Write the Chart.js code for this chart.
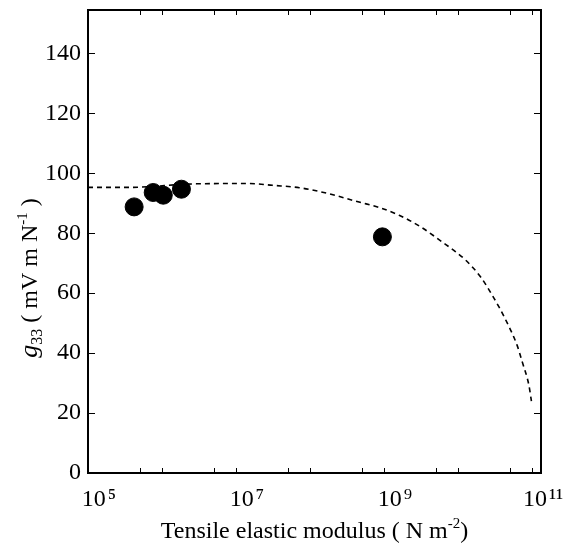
<!DOCTYPE html>
<html><head><meta charset="utf-8">
<script src="https://cdn.jsdelivr.net/npm/chart.js@4/dist/chart.umd.min.js"></script>
<style>html,body{margin:0;padding:0;background:#fff}#wrap{width:570px;height:554px}</style>
</head><body><div id="wrap"><canvas id="c"></canvas></div>
<script>
// ---- data ----
const pointModulus = [4.2e5, 7.6e5, 1.04e6, 1.83e6, 9.5e8];
const pointG33     = [88.8, 93.6, 92.7, 94.7, 78.8];

const curveModulus = [1.0e5, 3.46e5, 2.94e6, 1.52e7, 3.1e7, 7.2e7, 1.66e8, 4.6e8, 8.6e8,
                      1.6e9, 3.14e9, 6.1e9, 9.3e9, 1.27e10, 2.02e10, 2.9e10, 3.57e10, 5.13e10,
                      6.3e10, 7.36e10, 9.06e10, 9.8e10];
const curveG33     = [95.3, 95.3, 96.5, 96.6, 96.0, 95.2, 93.4, 90.4, 88.6,
                      86.0, 82.1, 77.1, 73.8, 71.0, 65.4, 59.3, 55.4, 47.7,
                      42.5, 37.1, 29.3, 24.0];

const xTickValues    = [1e5, 5e5, 1e6, 5e6, 1e7, 5e7, 1e8, 5e8, 1e9, 5e9, 1e10, 5e10, 1e11];
const xLabelExponents = [5, 7, 9, 11];
const yTickLabels    = [0, 20, 40, 60, 80, 100, 120, 140];

const SERIF = '"Liberation Serif", "Times New Roman", "DejaVu Serif", serif';
const SUP = {'0':'⁰','1':'¹','2':'²','3':'³','4':'⁴','5':'⁵','6':'⁶','7':'⁷','8':'⁸','9':'⁹','-':'⁻'};
const sup = s => String(s).split('').map(c => SUP[c] || c).join('');

function drawSegments(ctx, segs, x, y) {
  let cx = x;
  segs.forEach(s => {
    ctx.font = (s.style || '') + ' ' + s.size + 'px ' + SERIF;
    ctx.fillText(s.t, cx, y + (s.dy || 0));
    cx += ctx.measureText(s.t).width;
  });
}
function segWidth(ctx, segs) {
  let w = 0;
  segs.forEach(s => { ctx.font = (s.style || '') + ' ' + s.size + 'px ' + SERIF; w += ctx.measureText(s.t).width; });
  return w;
}

const framePlugin = {
  id: 'frameAndTicks',
  afterDatasetsDraw(chart) {
    const {ctx, chartArea: a, scales} = chart;
    ctx.save();
    ctx.strokeStyle = '#000';
    ctx.lineWidth = 1;
    scales.x.ticks.forEach(t => {
      const px = Math.round(scales.x.getPixelForValue(t.value)) + 0.5;
      if (px <= a.left + 2 || px >= a.right - 2) return;
      ctx.beginPath();
      ctx.moveTo(px, a.bottom); ctx.lineTo(px, a.bottom - 5);
      ctx.moveTo(px, a.top); ctx.lineTo(px, a.top + 5);
      ctx.stroke();
    });
    scales.y.ticks.forEach(t => {
      const py = Math.round(scales.y.getPixelForValue(t.value)) + 0.5;
      if (py >= a.bottom - 2 || py <= a.top + 2) return;
      const len = (t.value % 20 === 0) ? 7 : 4;
      ctx.beginPath();
      ctx.moveTo(a.left, py); ctx.lineTo(a.left + len, py);
      ctx.moveTo(a.right, py); ctx.lineTo(a.right - len, py);
      ctx.stroke();
    });
    ctx.lineWidth = 2;
    ctx.strokeRect(a.left, a.top, a.right - a.left, a.bottom - a.top);
    ctx.restore();
  },
  afterDraw(chart) {
    const {ctx, chartArea: a} = chart;
    ctx.save();
    ctx.fillStyle = '#000';
    ctx.textBaseline = 'alphabetic';
    // x title
    const xs = [{t: 'Tensile elastic modulus ( N m', size: 24},
                {t: '-2', size: 15, dy: -10},
                {t: ')', size: 24}];
    const wx = segWidth(ctx, xs);
    drawSegments(ctx, xs, (a.left + a.right) / 2 - wx / 2, 538);
    // y title
    const ys = [{t: 'g', size: 26, style: 'italic'},
                {t: '33', size: 16, dy: 5},
                {t: ' ( mV m N', size: 24},
                {t: '-1', size: 15, dy: -10},
                {t: ' )', size: 24}];
    const wy = segWidth(ctx, ys);
    ctx.translate(37, 278);
    ctx.rotate(-Math.PI / 2);
    drawSegments(ctx, ys, -wy / 2, 0);
    ctx.restore();
  }
};

new Chart(document.getElementById('c'), {
  type: 'scatter',
  data: {
    datasets: [
      {
        label: 'model',
        data: curveModulus.map((x, i) => ({x, y: curveG33[i]})),
        showLine: true,
        borderColor: '#000',
        borderWidth: 1.6,
        borderDash: [5, 4],
        pointRadius: 0,
        fill: false,
        cubicInterpolationMode: 'monotone'
      },
      {
        label: 'measured',
        data: pointModulus.map((x, i) => ({x, y: pointG33[i]})),
        backgroundColor: '#000',
        borderColor: '#000',
        pointRadius: 9,
        pointHoverRadius: 9
      }
    ]
  },
  options: {
    responsive: true,
    maintainAspectRatio: false,
    animation: false,
    events: [],
    layout: {padding: {top: 9, right: 29, left: 0, bottom: 0}},
    plugins: {legend: {display: false}, tooltip: {enabled: false}},
    scales: {
      x: {
        type: 'logarithmic',
        min: 1e5,
        max: 1.32e11,
        afterBuildTicks: s => { s.ticks = xTickValues.map(v => ({value: v})); },
        afterFit: s => { s.height = 81; s.paddingLeft = 0; s.paddingRight = 0; },
        grid: {display: false, drawTicks: false},
        border: {display: false},
        ticks: {
          autoSkip: false,
          maxRotation: 0,
          padding: 12,
          labelOffset: 11,
          color: '#000',
          font: {family: SERIF, size: 24},
          callback: v => {
            const e = Math.round(Math.log10(v));
            return (Math.abs(v - Math.pow(10, e)) < 1 && xLabelExponents.includes(e)) ? '10\u200A' + sup(e) : '';
          }
        }
      },
      y: {
        min: 0,
        max: 154.5,
        afterFit: s => { s.width = 88; s.paddingTop = 0; s.paddingBottom = 0; },
        grid: {display: false, drawTicks: false},
        border: {display: false},
        ticks: {
          stepSize: 10,
          includeBounds: false,
          padding: 7,
          color: '#000',
          font: {family: SERIF, size: 24},
          callback: v => yTickLabels.includes(v) ? String(v) : ''
        }
      }
    }
  },
  plugins: [framePlugin]
});
</script>
</body></html>
